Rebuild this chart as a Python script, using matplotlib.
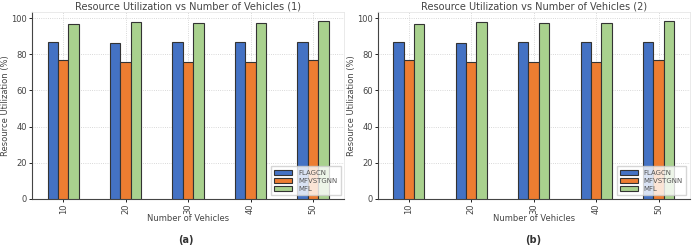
import matplotlib
matplotlib.use("Agg")
import matplotlib.pyplot as plt
import numpy as np

vehicles = [10, 20, 30, 40, 50]
flagcn = [87, 86, 87, 87, 87]
mfvstgnn = [77, 76, 76, 76, 77]
mfl = [97, 98, 97.5, 97.5, 98.5]

series = [("FLAGCN", flagcn, "#4472C4"),
          ("MFVSTGNN", mfvstgnn, "#ED7D31"),
          ("MFL", mfl, "#A9D18E")]

fig = plt.figure(figsize=(6.94, 2.49), dpi=100)
axes = [fig.add_axes([0.046, 0.201, 0.450, 0.751]),
        fig.add_axes([0.544, 0.201, 0.450, 0.751])]

x = np.arange(len(vehicles))
w = 0.5 / 3

for i, ax in enumerate(axes):
    for j, (name, vals, col) in enumerate(series):
        ax.bar(x + (j - 1) * w, vals, w, color=col, edgecolor="#333333",
               linewidth=0.8, label=name, zorder=3)
    ax.set_xlim(-0.5, len(vehicles) - 0.5)
    ax.set_ylim(0, 103.4)
    ax.set_xticks(x)
    ax.set_xticklabels(vehicles, rotation=90, fontsize=6, color="#444444")
    ax.set_yticks([0, 20, 40, 60, 80, 100])
    ax.tick_params(axis="y", labelsize=6, labelcolor="#444444", length=2, width=0.6, pad=1.5)
    ax.tick_params(axis="x", length=2, width=0.6, pad=1.5)
    ax.grid(True, linestyle=":", color="#cccccc", linewidth=0.6, zorder=0)
    for s in ["top", "right"]:
        ax.spines[s].set_color("#e6e6e6")
        ax.spines[s].set_linewidth(0.6)
    for s in ["left", "bottom"]:
        ax.spines[s].set_color("#444444")
        ax.spines[s].set_linewidth(0.8)
    ax.set_xlabel("Number of Vehicles", fontsize=6, color="#444444", labelpad=0)
    ax.set_ylabel("Resource Utilization (%)", fontsize=6, color="#444444", labelpad=1)
    ax.set_title("Resource Utilization vs Number of Vehicles (%d)" % (i + 1),
                 fontsize=7, color="#444444", pad=2)
    leg = ax.legend(loc="lower right", fontsize=5, frameon=True, borderpad=0.5,
                    handlelength=2.6, handleheight=0.8, labelspacing=0.3,
                    fancybox=False, edgecolor="#cccccc")
    for t in leg.get_texts():
        t.set_color("#555555")

fig.text(0.268, 0.025, "(a)", ha="center", fontsize=7, fontweight="bold", color="#333333")
fig.text(0.768, 0.025, "(b)", ha="center", fontsize=7, fontweight="bold", color="#333333")

fig.savefig("out.png", dpi=100)
